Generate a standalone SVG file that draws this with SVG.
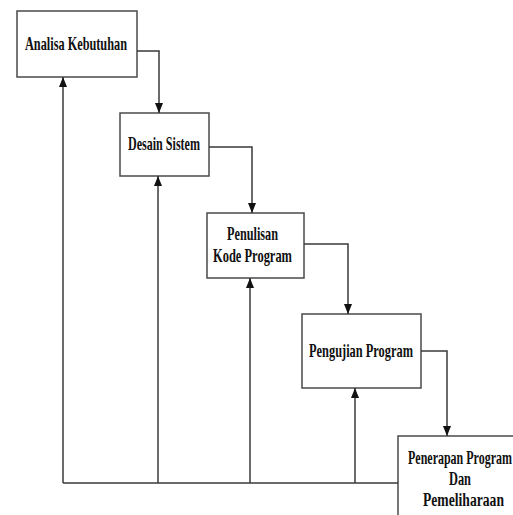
<svg xmlns="http://www.w3.org/2000/svg" width="513" height="515" viewBox="0 0 513 515">
<style>
.box{fill:#fff;stroke:#4a4a4a;stroke-width:1.5}
.lbl{font-family:"Liberation Serif","Times New Roman",serif;font-weight:bold;font-size:19px;fill:#111;text-anchor:middle}
.sm{font-size:18px}
.con{fill:none;stroke:#3a3a3a;stroke-width:1.5}
</style>
<defs>
<marker id="ah" markerUnits="userSpaceOnUse" markerWidth="10" markerHeight="8" refX="10" refY="4" orient="auto">
<path d="M0,0 L10,4 L0,8 z" fill="#111"/>
</marker>
</defs>
<rect width="513" height="515" fill="#fff"/>
<g id="n1">
<rect class="box" x="17" y="11" width="120" height="66"/>
<text class="lbl" x="76" y="50" textLength="102" lengthAdjust="spacingAndGlyphs">Analisa Kebutuhan</text>
</g>
<g id="n2">
<rect class="box" x="120" y="113" width="89" height="63"/>
<text class="lbl" x="164" y="150" textLength="72" lengthAdjust="spacingAndGlyphs">Desain Sistem</text>
</g>
<g id="n3">
<rect class="box" x="207" y="213" width="97" height="65"/>
<text class="lbl" x="252.5" y="240" textLength="51" lengthAdjust="spacingAndGlyphs">Penulisan</text>
<text class="lbl" x="252.5" y="262" textLength="79" lengthAdjust="spacingAndGlyphs">Kode Program</text>
</g>
<g id="n4">
<rect class="box" x="302" y="314" width="119" height="74"/>
<text class="lbl" x="361" y="357" textLength="104" lengthAdjust="spacingAndGlyphs">Pengujian Program</text>
</g>
<g id="n5">
<rect class="box" x="398" y="436" width="130" height="100"/>
<text class="lbl sm" x="460" y="464" textLength="104" lengthAdjust="spacingAndGlyphs">Penerapan Program</text>
<text class="lbl sm" x="460" y="485" textLength="22" lengthAdjust="spacingAndGlyphs">Dan</text>
<text class="lbl sm" x="463.5" y="506" textLength="81" lengthAdjust="spacingAndGlyphs">Pemeliharaan</text>
</g>
<g id="connectors">
<path class="con" d="M137,51 H159 V113" marker-end="url(#ah)"/>
<path class="con" d="M209,147 H252 V213" marker-end="url(#ah)"/>
<path class="con" d="M304,244 H348 V314" marker-end="url(#ah)"/>
<path class="con" d="M421,351 H447 V436" marker-end="url(#ah)"/>
<path class="con" d="M398,483 H63"/>
<path class="con" d="M63,483 V77" marker-end="url(#ah)"/>
<path class="con" d="M158,483 V176" marker-end="url(#ah)"/>
<path class="con" d="M250,483 V278" marker-end="url(#ah)"/>
<path class="con" d="M355,483 V388" marker-end="url(#ah)"/>
</g>
</svg>
